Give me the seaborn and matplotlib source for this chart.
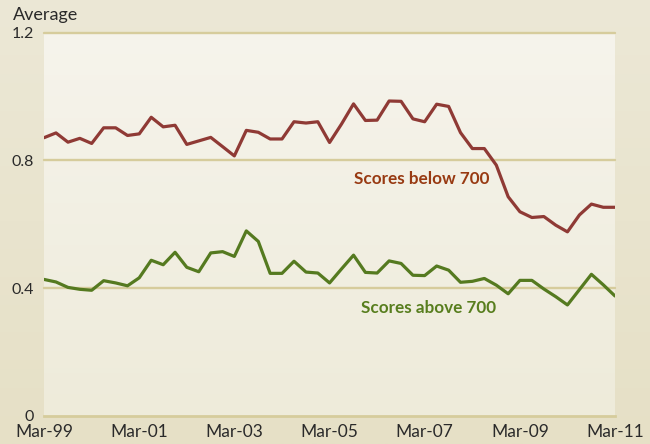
import numpy as np
import pandas as pd
import matplotlib
matplotlib.use("Agg")
import matplotlib.pyplot as plt
import matplotlib.dates as mdates
from matplotlib.colors import LinearSegmentedColormap
import seaborn as sns

# ---- data (quarterly, Mar-99 .. Mar-11) ----
quarters = pd.date_range("1999-03-01", periods=49, freq="3MS")
below_700 = [0.871, 0.886, 0.857, 0.869, 0.853, 0.902, 0.902, 0.878, 0.883, 0.935,
             0.905, 0.910, 0.850, 0.861, 0.872, 0.843, 0.814, 0.894, 0.888, 0.867,
             0.867, 0.921, 0.917, 0.921, 0.856, 0.914, 0.977, 0.925, 0.926, 0.986,
             0.985, 0.930, 0.921, 0.976, 0.969, 0.887, 0.837, 0.837, 0.785, 0.686,
             0.639, 0.621, 0.624, 0.597, 0.576, 0.629, 0.663, 0.653, 0.653]
above_700 = [0.427, 0.419, 0.402, 0.396, 0.393, 0.423, 0.416, 0.407, 0.432, 0.487,
             0.473, 0.512, 0.465, 0.451, 0.510, 0.514, 0.499, 0.579, 0.546, 0.446,
             0.446, 0.484, 0.450, 0.447, 0.416, 0.460, 0.503, 0.449, 0.447, 0.485,
             0.477, 0.440, 0.439, 0.469, 0.456, 0.418, 0.421, 0.430, 0.409, 0.382,
             0.424, 0.424, 0.397, 0.373, 0.347, 0.395, 0.443, 0.410, 0.375]
series_names = ["Scores below 700", "Scores above 700"]
y_ticks = [0, 0.4, 0.8, 1.2]
y_ticklabels = ["0", "0.4", "0.8", "1.2"]
x_tick_dates = pd.to_datetime(["1999-03-01", "2001-03-01", "2003-03-01", "2005-03-01",
                               "2007-03-01", "2009-03-01", "2011-03-01"])
x_ticklabels = ["Mar-99", "Mar-01", "Mar-03", "Mar-05", "Mar-07", "Mar-09", "Mar-11"]

df = pd.concat([
    pd.DataFrame({"date": quarters, "value": below_700, "series": series_names[0]}),
    pd.DataFrame({"date": quarters, "value": above_700, "series": series_names[1]}),
])

sns.set_style("white")
plt.rcParams["font.family"] = ["Lato", "DejaVu Sans"]

RED = "#8f3a35"
GREEN = "#557a20"
RED_TXT = "#983a12"
GREEN_TXT = "#587e1e"
GRID = "#d6cc9c"
TXT = "#2a2a2a"

fig = plt.figure(figsize=(6.5, 4.44), dpi=100)

# figure background gradient
bg = fig.add_axes([0, 0, 1, 1], zorder=-10)
grad = np.linspace(0, 1, 256).reshape(-1, 1)
cm_bg = LinearSegmentedColormap.from_list("bg", ["#ece8d6", "#e6e0c6"])
bg.imshow(grad, aspect="auto", cmap=cm_bg, extent=[0, 1, 0, 1], origin="upper")
bg.set_axis_off()

ax = fig.add_axes([44 / 650, 1 - 415.7 / 444, (615 - 44) / 650, (415.7 - 32.7) / 444])
ax.set_facecolor("none")
cm_pl = LinearSegmentedColormap.from_list("pl", ["#f6f4ec", "#eeebda"])
ax.imshow(grad, aspect="auto", cmap=cm_pl, origin="upper",
          extent=[mdates.date2num(quarters[0]), mdates.date2num(quarters[-1]), 0, 1.2],
          zorder=0)

sns.lineplot(data=df, x="date", y="value", hue="series",
             palette=[RED, GREEN], linewidth=2.3, legend=False, ax=ax, zorder=3)

ax.set_xlim(quarters[0], quarters[-1])
ax.set_ylim(0, 1.2)
for s in ["top", "right", "left"]:
    ax.spines[s].set_visible(False)
ax.spines["bottom"].set_color(GRID)
ax.spines["bottom"].set_linewidth(2.0)
ax.spines["bottom"].set_zorder(4)

ax.set_yticks(y_ticks)
ax.set_yticklabels(y_ticklabels)
for y in y_ticks[1:]:
    ax.axhline(y, color=GRID, linewidth=1.7, zorder=1, clip_on=False)
ax.tick_params(axis="y", length=0, pad=7, labelsize=11.5, labelcolor=TXT)

ax.set_xticks(x_tick_dates)
ax.set_xticklabels(x_ticklabels)
ax.tick_params(axis="x", direction="in", length=7, width=1.8, color=GRID,
               pad=6, labelsize=12.5, labelcolor=TXT)
xt = ax.xaxis.get_major_ticks()
xt[0].tick1line.set_visible(False)
xt[-1].tick1line.set_visible(False)

ax.set_xlabel("")
ax.set_ylabel("")

fig.text(13 / 650, 1 - 15 / 444, "Average", fontsize=13, color=TXT,
         ha="left", va="center")

ax.text(pd.Timestamp("2007-02-10"), 0.742, series_names[0], color=RED_TXT,
        fontsize=12.3, fontweight="bold", ha="center", va="center", zorder=5)
ax.text(pd.Timestamp("2007-04-01"), 0.337, series_names[1], color=GREEN_TXT,
        fontsize=12.3, fontweight="bold", ha="center", va="center", zorder=5)

fig.savefig("out.png", dpi=100)
